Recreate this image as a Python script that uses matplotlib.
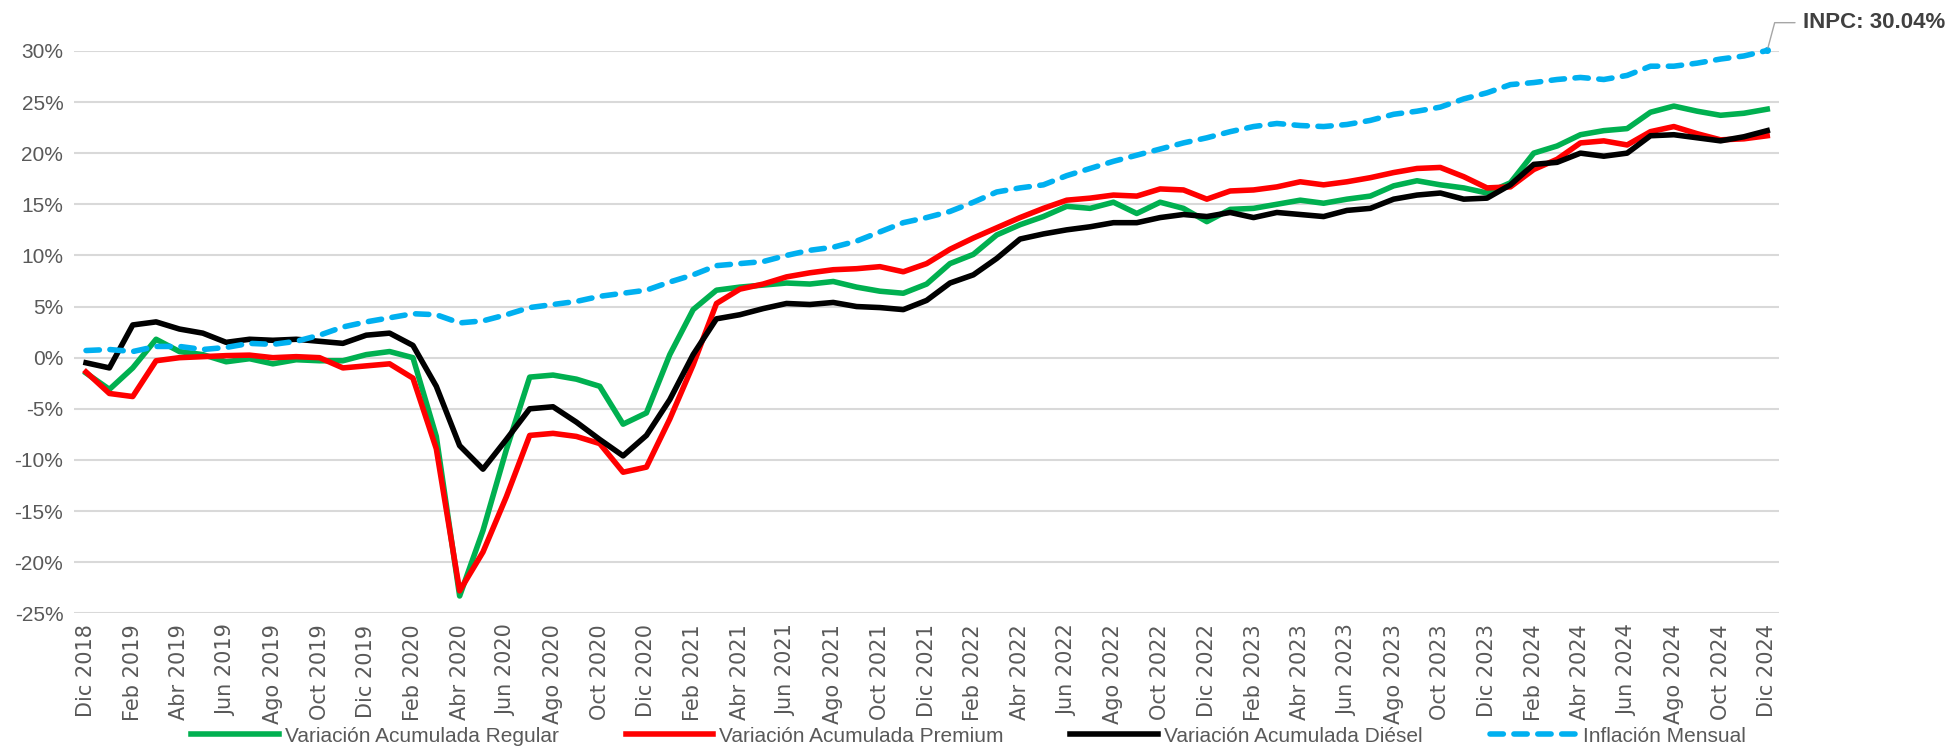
import numpy as np
import matplotlib.pyplot as plt

# Meses Dic 2018 - Dic 2024
abbr = ['Dic', 'Ene', 'Feb', 'Mar', 'Abr', 'May', 'Jun', 'Jul', 'Ago', 'Sep', 'Oct', 'Nov']
months = [f'{abbr[i % 12]} {2018 + (i + 11) // 12}' for i in range(73)]

regular = [-1.5, -3.1, -1.0, 1.8, 0.6, 0.3, -0.4, -0.1, -0.6, -0.2, -0.3, -0.3, 0.3,
           0.6, 0.0, -7.7, -23.3, -16.9, -9.0, -1.9, -1.7, -2.1, -2.8, -6.5, -5.4,
           0.3, 4.7, 6.6, 6.9, 7.1, 7.3, 7.2, 7.45, 6.9, 6.5, 6.3, 7.2,
           9.2, 10.1, 12.0, 13.0, 13.8, 14.8, 14.6, 15.2, 14.1, 15.2, 14.6, 13.3,
           14.5, 14.6, 15.0, 15.4, 15.1, 15.5, 15.8, 16.8, 17.3, 16.9, 16.6, 16.1,
           17.1, 20.0, 20.7, 21.8, 22.2, 22.4, 24.0, 24.6, 24.1, 23.7, 23.9, 24.3]

premium = [-1.4, -3.5, -3.8, -0.3, 0.0, 0.1, 0.2, 0.25, 0.0, 0.1, 0.0, -1.0, -0.8,
           -0.6, -2.0, -8.9, -22.8, -19.0, -13.6, -7.6, -7.4, -7.7, -8.4, -11.2, -10.7,
           -6.0, -0.7, 5.3, 6.7, 7.2, 7.9, 8.3, 8.6, 8.7, 8.9, 8.4, 9.2,
           10.6, 11.7, 12.7, 13.7, 14.6, 15.4, 15.6, 15.9, 15.8, 16.5, 16.4, 15.5,
           16.3, 16.4, 16.7, 17.2, 16.9, 17.2, 17.6, 18.1, 18.5, 18.6, 17.7, 16.6,
           16.7, 18.4, 19.4, 21.0, 21.2, 20.8, 22.1, 22.6, 21.9, 21.3, 21.4, 21.7]

diesel = [-0.5, -1.0, 3.2, 3.5, 2.8, 2.4, 1.5, 1.8, 1.7, 1.8, 1.6, 1.4, 2.2,
          2.4, 1.2, -2.8, -8.6, -10.9, -8.0, -5.0, -4.8, -6.3, -8.0, -9.6, -7.6,
          -4.1, 0.3, 3.8, 4.2, 4.8, 5.3, 5.2, 5.4, 5.0, 4.9, 4.7, 5.6,
          7.3, 8.1, 9.7, 11.6, 12.1, 12.5, 12.8, 13.2, 13.2, 13.7, 14.0, 13.8,
          14.2, 13.7, 14.2, 14.0, 13.8, 14.4, 14.6, 15.5, 15.9, 16.1, 15.5, 15.6,
          16.9, 18.9, 19.1, 20.0, 19.7, 20.0, 21.7, 21.8, 21.5, 21.2, 21.6, 22.2]

inflacion = [0.7, 0.8, 0.6, 1.1, 1.1, 0.8, 1.0, 1.4, 1.3, 1.6, 2.2, 3.0, 3.5,
             3.9, 4.3, 4.2, 3.4, 3.6, 4.2, 4.9, 5.2, 5.5, 6.0, 6.3, 6.6,
             7.4, 8.1, 9.0, 9.2, 9.4, 10.0, 10.5, 10.8, 11.4, 12.3, 13.2, 13.7,
             14.3, 15.2, 16.2, 16.6, 16.9, 17.8, 18.5, 19.2, 19.8, 20.4, 21.0, 21.5,
             22.1, 22.6, 22.9, 22.7, 22.6, 22.8, 23.2, 23.8, 24.1, 24.5, 25.3, 25.9,
             26.7, 26.9, 27.2, 27.4, 27.2, 27.6, 28.5, 28.5, 28.8, 29.2, 29.5, 30.04]

yticks = list(range(-25, 31, 5))

plt.rcParams['font.family'] = ['Liberation Sans Narrow', 'Liberation Sans', 'DejaVu Sans']

fig = plt.figure(figsize=(19.57, 7.48), dpi=100)
ax = fig.add_axes([0.038, 0.180, 0.871, 0.752])

x = np.arange(len(months))
lw = 4.0
ax.plot(x, regular, color='#00b050', lw=lw, label='Variación Acumulada Regular', clip_on=False)
ax.plot(x, premium, color='#ff0000', lw=lw, label='Variación Acumulada Premium', clip_on=False)
ax.plot(x, diesel, color='#000000', lw=lw, label='Variación Acumulada Diésel', clip_on=False)
ax.plot(x, inflacion, color='#00b0f0', lw=lw, dashes=(2.4, 1.9), dash_capstyle='round',
        label='Inflación Mensual', clip_on=False)

# etiqueta del último dato
ax.plot(x[-1], inflacion[-1], 'o', color='#00b0f0', ms=4, clip_on=False)
ax.annotate(f'INPC: {inflacion[-1]:.2f}%', xy=(x[-1], inflacion[-1]), xytext=(26, 20),
            textcoords='offset points', fontsize=16, fontweight='bold', color='#404040',
            va='center', ha='left',
            arrowprops=dict(arrowstyle='-', color='#a6a6a6', lw=1, shrinkA=4, shrinkB=2,
                            connectionstyle='angle,angleA=0,angleB=75,rad=0'))

ax.set_xlim(-0.5, len(months) - 0.5)
ax.set_ylim(-25, 30)
ax.set_yticks(yticks)
ax.set_yticklabels([f'{v}%' for v in yticks], fontsize=15, color='#595959')
ax.set_xticks(x[::2])
ax.set_xticklabels(months[::2], rotation=90, fontsize=15, color='#595959',
                   family='DejaVu Sans')
ax.tick_params(length=0, pad=8)
ax.grid(axis='y', color='#d9d9d9', lw=1.5)
ax.set_axisbelow(True)
for s in ax.spines.values():
    s.set_visible(False)

fig.legend(loc='lower center', ncol=4, frameon=False, bbox_to_anchor=(0.495, -0.022),
           fontsize=15, handlelength=4.2, handletextpad=0.3, columnspacing=3.2,
           labelcolor='#595959')

fig.savefig('out.png', dpi=100)
